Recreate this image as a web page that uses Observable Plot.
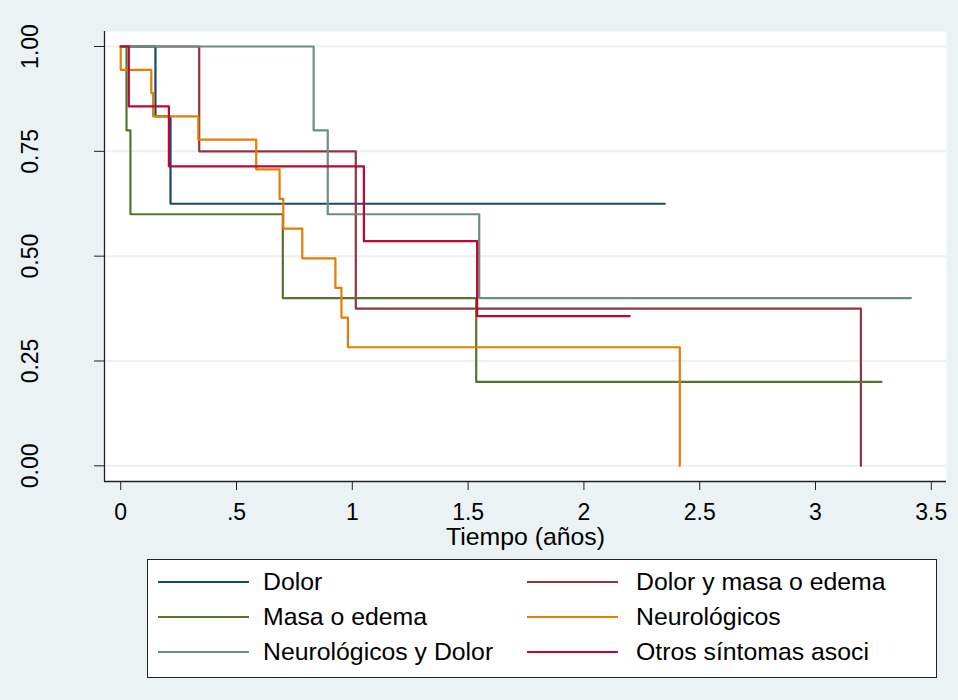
<!DOCTYPE html>
<html>
<head>
<meta charset="utf-8">
<script src="https://cdn.jsdelivr.net/npm/d3@7"></script>
<script src="https://cdn.jsdelivr.net/npm/@observablehq/plot@0.6"></script>
<style>
  html, body { margin: 0; padding: 0; background: #eaf2f3; }
  #wrap { position: relative; width: 958px; height: 700px; background: #eaf2f3; overflow: hidden;
          font-family: "Liberation Sans", Arial, sans-serif; }
  #chart { position: absolute; left: 0; top: 0; }
  #legend { position: absolute; left: 147px; top: 559px; width: 790px; height: 119px;
            box-sizing: border-box; background: #fff; border: 1px solid #222; }
  .item { position: absolute; height: 36px; display: flex; align-items: center; }
  .item svg { display: block; }
  .item span { position: absolute; white-space: nowrap; font-size: 24.8px; color: #000; line-height: 36px; top: 0; }
</style>
</head>
<body>
<div id="wrap">
  <div id="chart"></div>
  <div id="legend"></div>
</div>
<script>
// Kaplan–Meier survival estimates by presenting symptom group
const groups = ["Dolor", "Dolor y masa o edema", "Masa o edema", "Neurológicos", "Neurológicos y Dolor", "Otros síntomas asoci"];
const colors = ["#1a476f", "#90353b", "#55752f", "#e37e00", "#6e8e84", "#c10534"];

// time (years) and survival at each step; last point is the end of follow-up
const dolorT = [0, 0.150, 0.215, 2.349];
const dolorS = [1, 0.8333, 0.625, 0.625];

const dolorMasaT = [0, 0.339, 1.015, 3.196];
const dolorMasaS = [1, 0.75, 0.375, 0];

const masaT = [0, 0.025, 0.042, 0.700, 1.535, 3.285];
const masaS = [1, 0.8, 0.6, 0.4, 0.2, 0.2];

const neuroT = [0, 0, 0.132, 0.140, 0.335, 0.585, 0.686, 0.702, 0.784, 0.927, 0.953, 0.981, 2.414];
const neuroS = [1, 0.9444, 0.8889, 0.8333, 0.7778, 0.7071, 0.6364, 0.5657, 0.4949, 0.4242, 0.3535, 0.2828, 0];

const neuroDolorT = [0, 0.833, 0.894, 1.548, 3.412];
const neuroDolorS = [1, 0.8, 0.6, 0.4, 0.4];

const otrosT = [0, 0.035, 0.208, 1.050, 1.539, 2.198];
const otrosS = [1, 0.8571, 0.7143, 0.5357, 0.3571, 0.3571];

const xTicks = [0, 0.5, 1, 1.5, 2, 2.5, 3, 3.5];
const xTickLabels = ["0", ".5", "1", "1.5", "2", "2.5", "3", "3.5"];
const yTicks = [0, 0.25, 0.5, 0.75, 1];
const yTickLabels = ["0.00", "0.25", "0.50", "0.75", "1.00"];
const xTitle = "Tiempo (años)";

const seriesT = [dolorT, dolorMasaT, masaT, neuroT, neuroDolorT, otrosT];
const seriesS = [dolorS, dolorMasaS, masaS, neuroS, neuroDolorS, otrosS];
const rows = groups.flatMap((g, i) => seriesT[i].map((t, j) => ({group: g, t, s: seriesS[i][j]})));

const W = 958, H = 552;
const chart = Plot.plot({
  width: W,
  height: H,
  marginLeft: 104,
  marginRight: 12,
  marginTop: 31,
  marginBottom: H - 481,
  style: {background: "transparent", fontFamily: "'Liberation Sans', Arial, sans-serif", fontSize: "23px", color: "#222", overflow: "visible"},
  x: {domain: [-0.070, 3.5656]},
  y: {domain: [-0.0374, 1.0358]},
  color: {domain: groups, range: colors},
  marks: [
    Plot.frame({fill: "#fff", stroke: null}),
    Plot.ruleY(yTicks, {stroke: "#eaf2f3", strokeWidth: 2}),
    Plot.line(rows, {x: "t", y: "s", z: "group", stroke: "group", curve: "step-after", strokeWidth: 2.2}),
    Plot.ruleX([-0.070], {stroke: "#222", strokeWidth: 1.3}),
    Plot.ruleY([-0.0374], {stroke: "#222", strokeWidth: 1.3}),
    Plot.axisY({ticks: yTicks, tickFormat: d => yTickLabels[yTicks.indexOf(d)], tickSize: 10, tickRotate: -90,
                tickPadding: 56.5, label: null, fill: "#000"}),
    Plot.axisX({ticks: xTicks, tickFormat: d => xTickLabels[xTicks.indexOf(d)], tickSize: 9, tickPadding: 13,
                label: null, fill: "#000"}),
    // x-axis title below the tick labels
    Plot.text([xTitle], {frameAnchor: "bottom", lineAnchor: "bottom", dy: 63, fontSize: 24.8, fill: "#000", text: d => d})
  ]
});
document.getElementById("chart").appendChild(chart);

// legend: two columns, three rows
const legend = document.getElementById("legend");
groups.forEach((g, i) => {
  const col = i % 2, row = Math.floor(i / 2);
  const item = document.createElement("div");
  item.className = "item";
  item.style.left = (col ? 379 : 10) + "px";
  item.style.top = (4 + row * 35) + "px";
  item.innerHTML = `<svg width="91" height="36"><line x1="0" x2="91" y1="18" y2="18" stroke="${colors[i]}" stroke-width="2.2"/></svg>`;
  const span = document.createElement("span");
  span.textContent = g;
  span.style.left = (col ? 109 : 105) + "px";
  item.appendChild(span);
  legend.appendChild(item);
});
</script>
</body>
</html>
